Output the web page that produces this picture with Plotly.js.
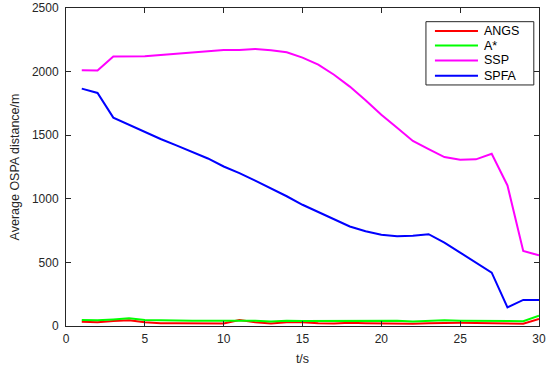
<!DOCTYPE html>
<html>
<head>
<meta charset="utf-8">
<script src="https://cdn.plot.ly/plotly-3.0.1.min.js"></script>
<style>html,body{margin:0;padding:0;background:#fff;}#chart{width:550px;height:368px;}</style>
</head>
<body>
<div id="chart"></div>
<script>
const t = [1,2,3,4,5,6,7,8,9,10,11,12,13,14,15,16,17,18,19,20,21,22,23,24,25,26,27,28,29,30];
const angs = [34,30,40,45,30,22,21,20,20,20,47,30,20,30,30,22,20,25,22,20,22,18,22,25,25,24,22,18,18,55];
const astar = [47,45,52,60,48,45,45,42,42,42,45,42,35,42,40,40,42,42,40,38,42,35,40,45,42,42,42,38,38,81];
const ssp = [2010,2008,2118,2120,2120,2130,2140,2155,2165,2170,2170,2178,2168,2152,2110,2055,1975,1882,1775,1661,1558,1455,1390,1328,1307,1310,1354,1105,590,555];
const spfa = [1866,1832,1638,1583,1522,1470,1420,1368,1317,1254,1202,1143,1084,1020,953,895,835,782,745,717,706,710,722,655,577,500,420,147,205,205];
const names = ['ANGS','A*','SSP','SPFA'];
const colors = ['#ff0000','#00ff00','#ff00ff','#0000ff'];
const series = [angs, astar, ssp, spfa];

const FONT = 'Liberation Sans, Arial, sans-serif';

const traces = series.map((y,i)=>({
  x: t, y: y, type:'scatter', mode:'lines', name: names[i],
  line:{color:colors[i], width:2}, showlegend:false
}));

// Legend drawn in paper coordinates (MATLAB-style compact box)
const legX0 = 0.761, legX1 = 0.989, legY0 = 0.758, legY1 = 0.957;
const lineX0 = 0.780, lineX1 = 0.871, textX = 0.880;
const itemY = [0.928, 0.882, 0.835, 0.787];
const shapes = [{type:'rect', xref:'paper', yref:'paper', x0:legX0, x1:legX1, y0:legY0, y1:legY1,
  line:{color:'#262626', width:1}, fillcolor:'#fff', layer:'above'}];
const annotations = [];
names.forEach((n,i)=>{
  shapes.push({type:'line', xref:'paper', yref:'paper', x0:lineX0, x1:lineX1, y0:itemY[i], y1:itemY[i],
    line:{color:colors[i], width:2}, layer:'above'});
  annotations.push({xref:'paper', yref:'paper', x:textX, y:itemY[i], text:n, showarrow:false,
    xanchor:'left', yanchor:'middle', font:{family:FONT, size:12.5, color:'#000'}});
});

const axisCommon = {
  showgrid:false, zeroline:false, showline:true, linecolor:'#262626', linewidth:1,
  mirror:'ticks', ticks:'inside', ticklen:5, tickcolor:'#262626',
  tickfont:{family:FONT, size:12, color:'#262626'}
};

const layout = {
  width:550, height:368,
  margin:{l:66, r:11, t:8, b:42},
  paper_bgcolor:'#fff', plot_bgcolor:'#fff',
  showlegend:false,
  shapes: shapes,
  annotations: annotations,
  xaxis: Object.assign({}, axisCommon, {range:[0,30], dtick:5, tick0:0, ticklabelstandoff:2,
    title:{text:'t/s', font:{family:FONT, size:12.5, color:'#262626'}, standoff:8}}),
  yaxis: Object.assign({}, axisCommon, {range:[0,2500], dtick:500, tick0:0, ticklabelstandoff:4,
    title:{text:'Average OSPA distance/m', font:{family:FONT, size:12.5, color:'#262626'}, standoff:9}})
};

Plotly.newPlot('chart', traces, layout, {displayModeBar:false, staticPlot:true});
</script>
</body>
</html>
